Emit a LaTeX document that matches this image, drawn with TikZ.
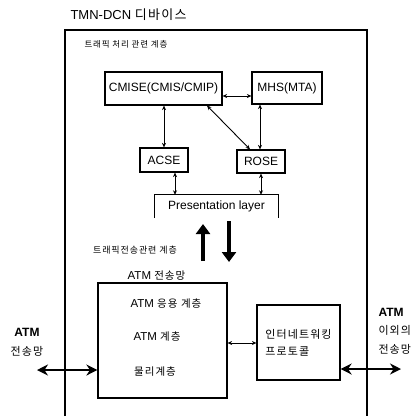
\documentclass[tikz,border=0pt]{standalone}
\usepackage{fontspec}
\setmainfont{Liberation Sans}
\newfontfamily\kr[LetterSpace=10]{Noto Sans CJK KR}
\usepackage{tikz}
\usetikzlibrary{positioning,calc,arrows.meta}
\tikzstyle{layerbox} = [draw, line width=1.2pt, inner sep=0pt, font=\fontsize{12}{14}\selectfont]
\tikzstyle{link} = [{Stealth[length=4.5pt,width=4pt]}-{Stealth[length=4.5pt,width=4pt]}, line width=0.9pt]
\tikzstyle{fatlink} = [{Stealth[length=11pt,width=11pt]}-{Stealth[length=11pt,width=11pt]}, line width=2.8pt]
\tikzstyle{bigarrow} = [-{Triangle[length=10pt,width=14pt]}, line width=4.5pt]

\begin{document}
\begin{tikzpicture}[x=1pt, y=-1pt]
    \useasboundingbox (0,0) rectangle (420,416);
    % Frame
    \draw[line width=1.1pt] (65,416) -- (65,30) -- (367,30) -- (367,416);
    \node[anchor=west, font=\fontsize{13}{15}\selectfont] (title) at (67,15) {TMN-DCN {\kr 디바이스}};
    \node[anchor=west, font=\fontsize{8.5}{10}\selectfont\kr] (upper) at (81,44) {트래픽 처리 관련 계층};
    % Nodes
    \node[layerbox, minimum width=117pt, minimum height=33pt] (cmise) at (163.5,88.5) {CMISE(CMIS/CMIP)};
    \node[layerbox, minimum width=70pt, minimum height=32pt] (mhs) at (287,88) {MHS(MTA)};
    \node[layerbox, minimum width=48pt, minimum height=24pt] (acse) at (164,160) {ACSE};
    \node[layerbox, minimum width=48pt, minimum height=23pt] (rose) at (261,161.5) {ROSE};
    \node[minimum width=123pt, minimum height=23pt, inner sep=0pt, font=\fontsize{12}{14}\selectfont] (pres) at (216.5,206.5) {Presentation layer};
    \draw[line width=1.2pt] (pres.south west) -- (pres.north west) -- (pres.north east) -- (pres.south east);
    % Arrows
    \draw[link] ([yshift=-7.5pt]cmise.east) -- ([yshift=-7.5pt]cmise.east -| mhs.west);
    \draw[link] (acse.north |- cmise.south) -- (acse.north);
    \draw[link] ([xshift=-1pt]rose.north |- mhs.south) -- ([xshift=-1pt]rose.north);
    \draw[link] ([xshift=43.5pt]cmise.south) -- ([xshift=-11pt]rose.north);
    \draw[link] ([xshift=11pt]acse.south) -- ([xshift=11pt]acse.south |- pres.north);
    \draw[link] (rose.south) -- (rose.south |- pres.north);
    % Transfer layer
    \coordinate (upfoot) at (203,261);
    \coordinate (uptip) at (203,224);
    \coordinate (downtop) at (229,221);
    \coordinate (downtip) at (229,262);
    \draw[bigarrow] (upfoot) -- (uptip);
    \draw[bigarrow] (downtop) -- (downtip);
    \node[font=\fontsize{9}{11}\selectfont\kr] (lower) at (135,250) {트래픽전송관련 계층};
    \node[layerbox, minimum width=129pt, minimum height=115pt] (atm) at (162.5,340.5) {};
    \node[above=-1.5pt of atm, xshift=-6pt, font=\fontsize{11.5}{14}\selectfont] (atmnet) {ATM {\kr\fontsize{10.5}{12}\selectfont 전송망}};
    \node[font=\fontsize{11.5}{14}\selectfont] (app) at (166,304) {ATM {\kr\fontsize{10.5}{12}\selectfont 응용 계층}};
    \node[font=\fontsize{11.5}{14}\selectfont] (atmlayer) at (157,337) {ATM {\kr\fontsize{10.5}{12}\selectfont 계층}};
    \node[font=\fontsize{10.5}{12}\selectfont\kr] (phy) at (155,372) {물리계층};
    \node[layerbox, minimum width=83pt, minimum height=75pt, align=left, font=\fontsize{11}{17}\selectfont\kr] (inet) at (298.5,342.5) {인터네트워킹\\프로토콜};
    \draw[link] ([yshift=-2.5pt]atm.east) -- ([yshift=-2.5pt]atm.east -| inet.west);
    % Outside networks
    \coordinate (leftend) at (37,370);
    \coordinate (rightend) at (401,369);
    \draw[fatlink] (leftend) -- (leftend -| atm.west);
    \draw[fatlink] (inet.east |- rightend) -- (rightend);
    \node[align=center, font=\fontsize{12}{19}\selectfont] (leftnet) at (27,342) {\textbf{ATM}\\{\kr\fontsize{11}{19}\selectfont 전송망}};
    \node[anchor=west, align=left, font=\fontsize{12}{18.5}\selectfont] (rightnet) at (375,331) {\textbf{ATM}\\{\kr\fontsize{11}{18.5}\selectfont 이외의}\\{\kr\fontsize{11}{18.5}\selectfont 전송망}};
\end{tikzpicture}
\end{document}
